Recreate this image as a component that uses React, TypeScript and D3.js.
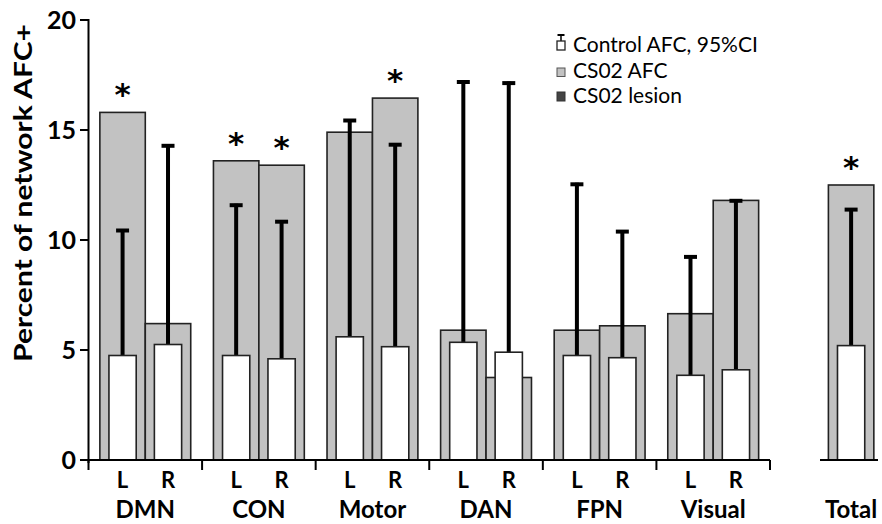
import React from "react";
import * as d3 from "d3";

const groups = ["DMN", "CON", "Motor", "DAN", "FPN", "Visual"];
const hemis = ["L", "R"];
// order: DMN L, DMN R, CON L, CON R, Motor L, Motor R, DAN L, DAN R, FPN L, FPN R, Visual L, Visual R
const cs02AFC = [15.8, 6.2, 13.6, 13.4, 14.9, 16.45, 5.9, 3.75, 5.9, 6.1, 6.65, 11.8];
const controlAFC = [4.75, 5.25, 4.75, 4.6, 5.6, 5.15, 5.35, 4.9, 4.75, 4.65, 3.85, 4.1];
const controlCIUpper = [10.5, 14.35, 11.65, 10.9, 15.5, 14.4, 17.25, 17.2, 12.6, 10.45, 9.3, 11.85];
const significant = [true, false, true, true, false, true, false, false, false, false, false, false];
const totalLabel = "Total";
const totalCS02 = 12.5;
const totalControl = 5.2;
const totalCIUpper = 11.45;
const totalSignificant = true;
const yTicks = [0, 5, 10, 15, 20];
const legendItems = ["Control AFC, 95%CI", "CS02 AFC", "CS02 lesion"];

const W = 882;
const H = 524;
const GRAY = "#c2c2c2";
const DARK = "#444444";
const STROKE = "#222";
const FONT = "Lato, 'Open Sans', sans-serif";

export default function App() {
  const y = d3.scaleLinear().domain([0, 20]).range([460, 20]);
  const xGroup = d3.scaleBand().domain(groups).range([88.5, 770]).padding(0);
  const xHemi = d3
    .scaleBand()
    .domain(hemis)
    .range([0, xGroup.bandwidth()])
    .paddingInner(0)
    .paddingOuter(0.25);
  const bw = xHemi.bandwidth();
  const whiteW = bw * 0.6;
  const xTotal = d3.scaleBand().domain([totalLabel]).range([828.4, 828.4 + bw]);

  const bars = [];
  groups.forEach((g, gi) => {
    hemis.forEach((h, hi) => {
      const i = gi * 2 + hi;
      const x0 = (xGroup(g) as number) + (xHemi(h) as number);
      bars.push({
        key: g + h,
        hemi: h,
        x0,
        cs: cs02AFC[i],
        ctrl: controlAFC[i],
        ci: controlCIUpper[i],
        sig: significant[i],
      });
    });
  });
  const totalBar = {
    key: "total",
    hemi: "",
    x0: xTotal(totalLabel) as number,
    cs: totalCS02,
    ctrl: totalControl,
    ci: totalCIUpper,
    sig: totalSignificant,
  };
  const allBars = [...bars, totalBar];

  const boundaries = groups.map((g) => xGroup(g) as number).concat([xGroup.range()[1]]);

  return (
    <svg
      width={W}
      height={H}
      style={{ position: "absolute", left: 0, top: 0, background: "#fff" }}
      fontFamily={FONT}
    >
      <rect x={0} y={0} width={W} height={H} fill="#fff" />
      {/* gray CS02 bars */}
      {allBars.map((b) => (
        <rect
          key={"g" + b.key}
          x={b.x0}
          y={y(b.cs)}
          width={bw}
          height={y(0) - y(b.cs)}
          fill={GRAY}
          stroke={STROKE}
          strokeWidth={1.6}
        />
      ))}
      {/* error bars */}
      {allBars.map((b) => {
        const cx = b.x0 + bw / 2;
        return (
          <g key={"e" + b.key}>
            <line x1={cx} x2={cx} y1={y(b.ctrl)} y2={y(b.ci)} stroke="#000" strokeWidth={4} />
            <line x1={cx - 6.5} x2={cx + 6.5} y1={y(b.ci) + 1.5} y2={y(b.ci) + 1.5} stroke="#000" strokeWidth={4} />
          </g>
        );
      })}
      {/* white control bars */}
      {allBars.map((b) => (
        <rect
          key={"w" + b.key}
          x={b.x0 + (bw - whiteW) / 2}
          y={y(b.ctrl)}
          width={whiteW}
          height={y(0) - y(b.ctrl)}
          fill="#fff"
          stroke={STROKE}
          strokeWidth={1.6}
        />
      ))}
      {/* stars */}
      {allBars
        .filter((b) => b.sig)
        .map((b) => (
          <text
            key={"s" + b.key}
            x={b.x0 + bw / 2}
            y={y(b.cs) - 25 + 18}
            textAnchor="middle"
            fontSize={31}
            fontWeight="bold"
            fontFamily="'DejaVu Sans', sans-serif"
            fill="#000"
          >
            *
          </text>
        ))}
      {/* y axis */}
      <line x1={88.5} x2={88.5} y1={y(20) - 1} y2={y(0) + 3} stroke="#000" strokeWidth={2} />
      {yTicks.map((t) => (
        <g key={"yt" + t}>
          <line x1={80} x2={88.5} y1={y(t)} y2={y(t)} stroke="#000" strokeWidth={2} />
          <text
            x={76}
            y={y(t)}
            dy="0.36em"
            textAnchor="end"
            fontSize={25}
            fontWeight="bold"
            fill="#000"
          >
            {t}
          </text>
        </g>
      ))}
      <text
        transform={`translate(32, 193) rotate(-90)`}
        textAnchor="middle"
        fontSize={25}
        fontWeight="bold"
        textLength={338}
        lengthAdjust="spacingAndGlyphs"
        fill="#000"
      >
        Percent of network AFC+
      </text>
      {/* x axis */}
      <line x1={88.5} x2={770} y1={y(0)} y2={y(0)} stroke="#000" strokeWidth={2} />
      {boundaries.map((bx, i) => (
        <line key={"xt" + i} x1={bx} x2={bx} y1={y(0)} y2={y(0) + 10} stroke="#000" strokeWidth={2} />
      ))}
      <line x1={820} x2={878} y1={y(0)} y2={y(0)} stroke="#000" strokeWidth={2} />
      {bars.map((b) => (
        <text
          key={"hl" + b.key}
          x={b.x0 + bw / 2}
          y={488}
          textAnchor="middle"
          fontSize={22}
          fontWeight="bold"
          fill="#000"
        >
          {b.hemi}
        </text>
      ))}
      {groups.map((g) => (
        <text
          key={"gl" + g}
          x={(xGroup(g) as number) + xGroup.bandwidth() / 2}
          y={518}
          textAnchor="middle"
          fontSize={24}
          fontWeight="bold"
          fill="#000"
        >
          {g}
        </text>
      ))}
      <text
        x={totalBar.x0 + bw / 2}
        y={518}
        textAnchor="middle"
        fontSize={24}
        fontWeight="bold"
        fill="#000"
      >
        {totalLabel}
      </text>
      {/* legend */}
      <g>
        <line x1={561} x2={561} y1={35} y2={41} stroke="#000" strokeWidth={1.5} />
        <line x1={557.5} x2={564.5} y1={35} y2={35} stroke="#000" strokeWidth={2} />
        <rect x={557} y={41} width={8} height={9} fill="#fff" stroke={STROKE} strokeWidth={1.3} />
        <rect x={557} y={68} width={8} height={8.5} fill={GRAY} stroke="#555" strokeWidth={1} />
        <rect x={557} y={92} width={8} height={9} fill={DARK} stroke="#333" strokeWidth={1} />
        {legendItems.map((t, i) => (
          <text key={"lg" + i} x={573} y={[51.5, 78, 102.5][i]} fontSize={21} fill="#000">
            {t}
          </text>
        ))}
      </g>
    </svg>
  );
}
